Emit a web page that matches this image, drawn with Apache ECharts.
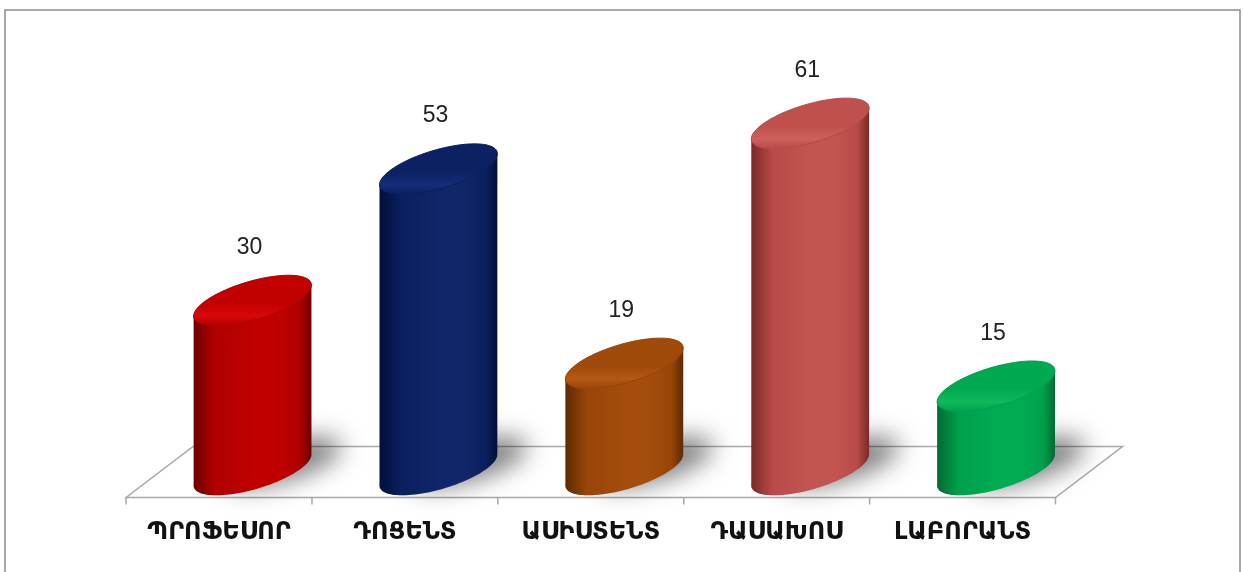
<!DOCTYPE html>
<html>
<head>
<meta charset="utf-8">
<script src="https://cdn.jsdelivr.net/npm/echarts@6/dist/echarts.min.js"></script>
<style>
html,body{margin:0;padding:0;background:#fff;}
#c{width:1243px;height:572px;}
</style>
</head>
<body>
<div id="c"></div>
<script>
const categories = ['ՊՐՈՖԵՍՈՐ', 'ԴՈՑԵՆՏ', 'ԱՍԻՍՏԵՆՏ', 'ԴԱՍԱԽՈՍ', 'ԼԱԲՈՐԱՆՏ'];
const values = [30, 53, 19, 61, 15];
const valueAxisMin = 0;
const valueAxisMax = 70;

// styling (not data)
const palettes = [
  {dark:'#6e0000', mid:'#b00000', light:'#c00000', top:'#c20000', topLight:'#d80808'},
  {dark:'#020f38', mid:'#0a1f5e', light:'#0f2668', top:'#0b2162', topLight:'#142e78'},
  {dark:'#5c2a02', mid:'#984508', light:'#a44d0c', top:'#a04a0a', topLight:'#b45814'},
  {dark:'#7a2a28', mid:'#b84a47', light:'#c25552', top:'#c0504d', topLight:'#cc605d'},
  {dark:'#006a30', mid:'#00a04c', light:'#00ac52', top:'#00a84f', topLight:'#10b85c'}
];
const DX = 33.5, DY = 25.5;

function ellipsePts(cx, cy, w, h, k, t0, t1, n) {
  const pts = [];
  for (let j = 0; j <= n; j++) {
    const t = t0 + (t1 - t0) * j / n;
    pts.push([cx + w * Math.cos(t), cy + h * Math.sin(t) - k * Math.cos(t)]);
  }
  return pts;
}

function renderFloor(params, api) {
  const c0 = api.coord([0, valueAxisMin]);
  const band = api.size([1, 0])[0];
  const n = categories.length;
  const left = c0[0] - band / 2;
  const right = left + band * n;
  const y = c0[1];
  const children = [{
    type: 'polygon',
    shape: {points: [[left - DX, y + DY], [right - DX, y + DY], [right + DX, y - DY], [left + DX, y - DY]]},
    style: {fill: '#ffffff', stroke: '#a8a8a8', lineWidth: 1.5}
  }];
  for (let j = 0; j <= n; j++) {
    const x = left - DX + j * band;
    children.push({type: 'line', shape: {x1: x, y1: y + DY, x2: x, y2: y + DY + 7},
      style: {stroke: '#a8a8a8', lineWidth: 1.5}});
  }
  return {type: 'group', children};
}

function renderCyl(params, api) {
  const i = params.dataIndex;
  const v = api.value(1);
  const topP = api.coord([i, v]);
  const baseP = api.coord([i, valueAxisMin]);
  const band = api.size([1, 0])[0];
  const w = band * 0.317, h = 20, k = 15.5;
  const cx = topP[0], yT = topP[1], yB = baseP[1] - 2;
  const p = palettes[i];
  const bottomArc = ellipsePts(cx, yB, w, h, k, Math.PI, 0, 60);
  const bodyPts = [[cx - w, yT + k]].concat(bottomArc).concat([[cx + w, yT - k]]);
  const topPts = ellipsePts(cx, yT, w, h, k, 0, Math.PI * 2, 90);
  const shadowPts = ellipsePts(cx, yB, w, h, k, 0, Math.PI * 2, 60);
  return {
    type: 'group',
    children: [
      {type: 'polygon', shape: {points: shadowPts},
        style: {fill: '#bdbdbd', shadowBlur: 24, shadowOffsetX: 30, shadowOffsetY: -8, shadowColor: 'rgba(0,0,0,0.5)'}},
      {type: 'polygon', shape: {points: bodyPts},
        style: {fill: new echarts.graphic.LinearGradient(0, 0, 1, 0, [
          {offset: 0, color: p.dark}, {offset: 0.18, color: p.mid},
          {offset: 0.5, color: p.light}, {offset: 0.72, color: p.light},
          {offset: 0.9, color: p.mid}, {offset: 1, color: p.dark}])}},
      {type: 'polygon', shape: {points: topPts},
        style: {fill: new echarts.graphic.LinearGradient(0, 0, 0, 1, [
          {offset: 0, color: p.top}, {offset: 0.55, color: p.top},
          {offset: 0.8, color: p.topLight}, {offset: 1, color: p.mid}]),
          stroke: p.mid, lineWidth: 1}},
      {type: 'text', style: {text: String(v), x: cx - 3, y: yT - 53,
        align: 'center', verticalAlign: 'middle',
        fontSize: 23, fontFamily: '"Liberation Sans", Arial, sans-serif', fill: '#222'}}
    ]
  };
}

const chart = echarts.init(document.getElementById('c'), null, {renderer: 'canvas'});
chart.setOption({
  animation: false,
  backgroundColor: '#ffffff',
  graphic: [{type: 'rect', shape: {x: 5, y: 10, width: 1235, height: 600},
    style: {fill: 'none', stroke: '#8c8c8c', lineWidth: 1.5}, z: 0}],
  grid: {left: 159.6, width: 929.4, top: 72, bottom: 100, containLabel: false},
  xAxis: {
    type: 'category', data: categories,
    axisLine: {show: false}, axisTick: {show: false}, splitLine: {show: false},
    axisLabel: {margin: 49, padding: [0, 67, 0, 0], fontSize: 24, fontWeight: 'bold',
      fontFamily: '"DejaVu Sans", sans-serif', color: '#111', interval: 0}
  },
  yAxis: {type: 'value', min: valueAxisMin, max: valueAxisMax, show: false},
  series: [
    {type: 'custom', renderItem: renderFloor, data: [[0, 0]], z: 1, clip: false, silent: true},
    {type: 'custom', renderItem: renderCyl, data: values.map((v, i) => [i, v]),
      encode: {x: 0, y: 1}, z: 2, clip: false}
  ]
});
</script>
</body>
</html>
